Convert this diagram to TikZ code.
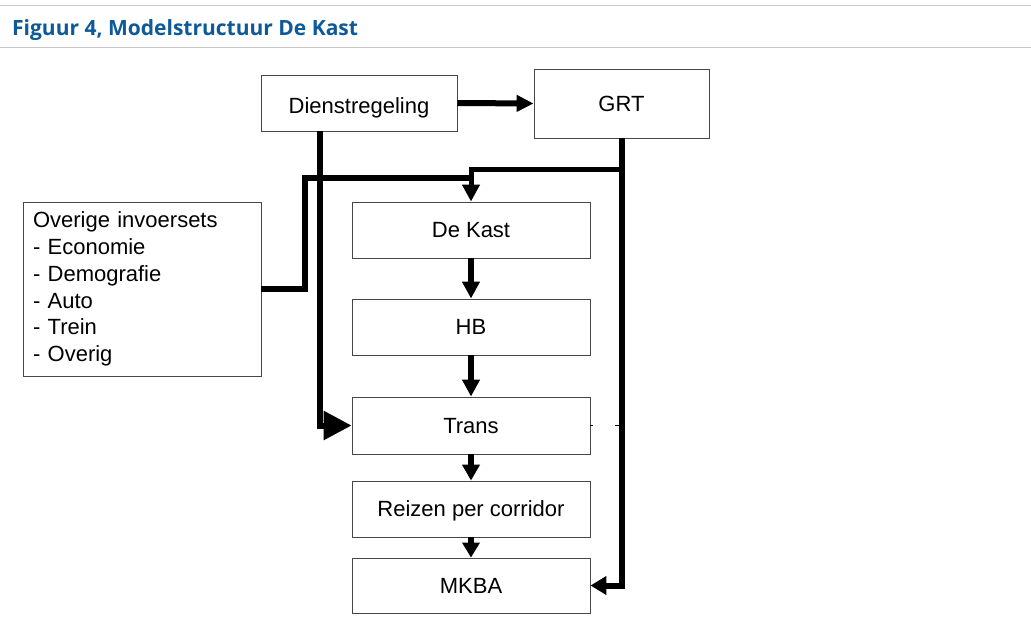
\documentclass[tikz,border=0pt]{standalone}
\usepackage{fontspec}
\setmainfont{Liberation Sans}
\newfontfamily\titlefont{Open Sans}
\usetikzlibrary{arrows.meta,calc}
\definecolor{titleblue}{RGB}{14,90,152}
\definecolor{rulegray}{RGB}{200,200,204}
\definecolor{boxgray}{RGB}{70,70,70}
\begin{document}
\begin{tikzpicture}[x=1pt,y=-1pt,
  box/.style={draw=boxgray, line width=0.9pt, fill=white, inner sep=0pt,
    font=\fontsize{22}{26.8}\selectfont},
  one/.style={text height=15.8pt, text depth=0pt},
  flow/.style={line width=6pt},
  tipS/.style={-{Triangle[length=17pt,width=17pt]}}]
\useasboundingbox (0,0) rectangle (1031,626);
\fill[white] (0,0) rectangle (1031,626);
% header
\draw[rulegray, line width=1.5pt] (0,5.3) -- (1031,5.3);
\draw[rulegray, line width=1.5pt] (0,47.5) -- (1031,47.5);
\node[anchor=base west, inner sep=0pt, text=titleblue,
  font=\titlefont\bfseries\fontsize{21}{24}\selectfont] (title) at (12,35.5)
  {Figuur 4, Modelstructuur De Kast};
% boxes
\node[box, minimum width=196pt, minimum height=56pt, text height=21.8pt, text depth=0pt] (dienst) at (359,103) {Dienstregeling};
\node[box, one, minimum width=175pt, minimum height=69pt] (grt) at (621.5,103.5) {GRT};
\node[box, minimum width=238pt, minimum height=174pt, align=left,
  text width=218pt] (over) at (142,289)
  {Overige invoersets\\- Economie\\- Demografie\\- Auto\\- Trein\\- Overig};
\node[box, one, minimum width=238pt, minimum height=56pt] (dekast) at (471,230) {De Kast};
\node[box, one, minimum width=238pt, minimum height=56pt] (hb) at (471,327) {HB};
\node[box, one, minimum width=238pt, minimum height=57pt] (trans) at (471,425.5) {Trans};
\node[box, one, minimum width=238pt, minimum height=56pt] (reizen) at (471,509) {Reizen per corridor};
\node[box, one, minimum width=238pt, minimum height=55pt] (mkba) at (471,585.5) {MKBA};
% helper coordinates
\coordinate (oc) at (305,178);
\coordinate (ok) at (473,178);
\coordinate (gb) at (621.5,169.5);
% connectors
\draw[flow, -{Triangle[length=17pt,width=16pt]}] (dienst.east) -- (grt.west);
\draw[flow, -{Triangle[length=28pt,width=28pt]}] ($(dienst.south)+(-39,0)$) |- (trans.west);
\draw[line width=5.5pt] (over.east) -| (oc) -- (ok);
\draw[flow, -{Triangle[length=16pt,width=18pt]}] (grt.south) |- (mkba.east);
\draw[line width=5pt, tipS] (gb) -| (dekast.north);
\draw[flow, tipS] (dekast.south) -- (hb.north);
\draw[flow, tipS] (hb.south) -- (trans.north);
\draw[flow, -{Triangle[length=16pt,width=17pt]}] (trans.south) -- (reizen.north);
\draw[flow, -{Triangle[length=15pt,width=17pt]}] (reizen.south) -- (mkba.north);
\draw[line width=0.8pt, dash pattern=on 3pt off 22pt on 6pt] (trans.east) -- (trans.east -| grt.south);
\end{tikzpicture}
\end{document}
